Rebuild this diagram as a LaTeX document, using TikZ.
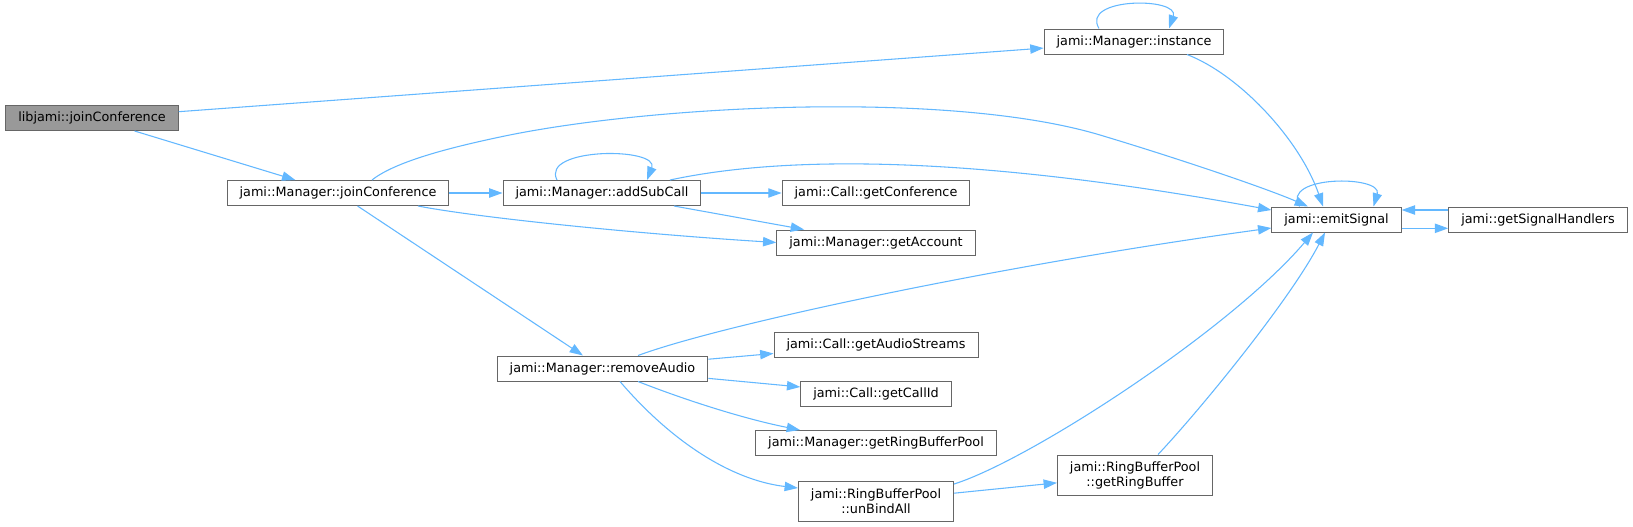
\documentclass[tikz,border=0pt]{standalone}
\usepackage{fontspec}
\setmainfont{DejaVu Sans}
\usetikzlibrary{arrows.meta,calc}
\definecolor{edgec}{HTML}{63B8FF}
\definecolor{boxc}{HTML}{666666}
\definecolor{rootc}{HTML}{999999}
\begin{document}
\begin{tikzpicture}[x=0.75pt,y=-0.75pt,
  fn/.style={draw=boxc, line width=0.75pt, fill=white, font=\fontsize{9.6pt}{11.3pt}\selectfont, inner xsep=9.4pt, inner ysep=1pt, minimum height=18.75pt, align=center},
  root/.style={fn, fill=rootc},
  two/.style={fn, minimum height=30pt},
  edge/.style={draw=edgec, line width=0.8pt, -{Triangle[length=10pt,width=7pt]}}]
\fill[white] (0,0) rectangle (1633,526);
\useasboundingbox (0,0) rectangle (1633,526);

\node[root] (L) at (92,118) {libjami::joinConference};
\node[fn] (J) at (338,193) {jami::Manager::joinConference};
\node[fn] (A) at (602,193) {jami::Manager::addSubCall};
\node[fn] (I) at (1134,41.5) {jami::Manager::instance};
\node[fn] (GC) at (876,193) {jami::Call::getConference};
\node[fn] (GA) at (876,242.5) {jami::Manager::getAccount};
\node[fn] (E) at (1336.5,219.5) {jami::emitSignal};
\node[fn] (GS) at (1538,219.5) {jami::getSignalHandlers};
\node[fn] (R) at (602.5,368.5) {jami::Manager::removeAudio};
\node[fn] (AS) at (876,344.5) {jami::Call::getAudioStreams};
\node[fn] (CI) at (876,394) {jami::Call::getCallId};
\node[fn] (RP) at (876,443) {jami::Manager::getRingBufferPool};
\node[two] (U) at (876,501) {jami::RingBufferPool\\::unBindAll};
\node[two] (RB) at (1135,475) {jami::RingBufferPool\\::getRingBuffer};

% straight edges
\draw[edge] (L) -- (I);
\draw[edge] (L) -- (J);
\draw[edge] (J) -- (A);
\draw[edge] (J) -- (R);
\draw[edge] (A) -- (GC);
\draw[edge] (A) -- (GA);
\draw[edge] (R) -- (AS);
\draw[edge] (R) -- (CI);
\draw[edge] (U) -- (RB);
\draw[edge] ($(E.east)+(0,8.8)$) -- ($(GS.west)+(0,8.8)$);
\draw[edge] ($(GS.west)+(0,-9.5)$) -- ($(E.east)+(0,-9.5)$);

% self loops
\draw[edge] ($(I.north)+(-35,0)$) .. controls (1080,-3) and (1180,-3) .. ($(I.north)+(35,0)$);
\draw[edge] ($(A.north)+(-45,0)$) .. controls (540,147) and (660,147) .. ($(A.north)+(45,0)$);
\draw[edge] ($(E.north)+(-37,0)$) .. controls (1280,175) and (1383,175) .. ($(E.north)+(37,0)$);

% curved edges
\draw[edge] ($(J.north)+(34,0)$) .. controls (397,160) and (460,145.5) .. (500,137)
  .. controls (650,105) and (950,90) .. (1100,135)
  .. controls (1180,159) and (1268,189) .. ($(E.north)+(-28.5,0)$);
\draw[edge] ($(J.south)+(80,0)$) .. controls (480,218) and (640,234) .. (GA.west);
\draw[edge] ($(A.north)+(68,0)$) .. controls (800,152) and (1000,160) .. ($(E.west)+(0,-9.5)$);
\draw[edge] ($(I.south)+(53,0)$) .. controls (1240,75) and (1300,140) .. ($(E.north)+(-13.5,0)$);
\draw[edge] ($(R.north)+(35.5,0)$) .. controls (720,325) and (1000,265) .. ($(E.west)+(0,8.5)$);
\draw[edge] ($(R.south)+(35.5,0)$) .. controls (680,398) and (740,418) .. ($(RP.north)+(-76,0)$);
\draw[edge] ($(R.south)+(17.5,0)$) .. controls (670,440) and (730,480) .. ($(U.west)+(0,-13)$);
\draw[edge] ($(U.east)+(0,-17)$) .. controls (1030,460) and (1230,330) .. ($(E.south)+(-23.5,0)$);
\draw[edge] ($(RB.north)+(23,0)$) .. controls (1200,410) and (1290,300) .. ($(E.south)+(-11.5,0)$);
\end{tikzpicture}
\end{document}
